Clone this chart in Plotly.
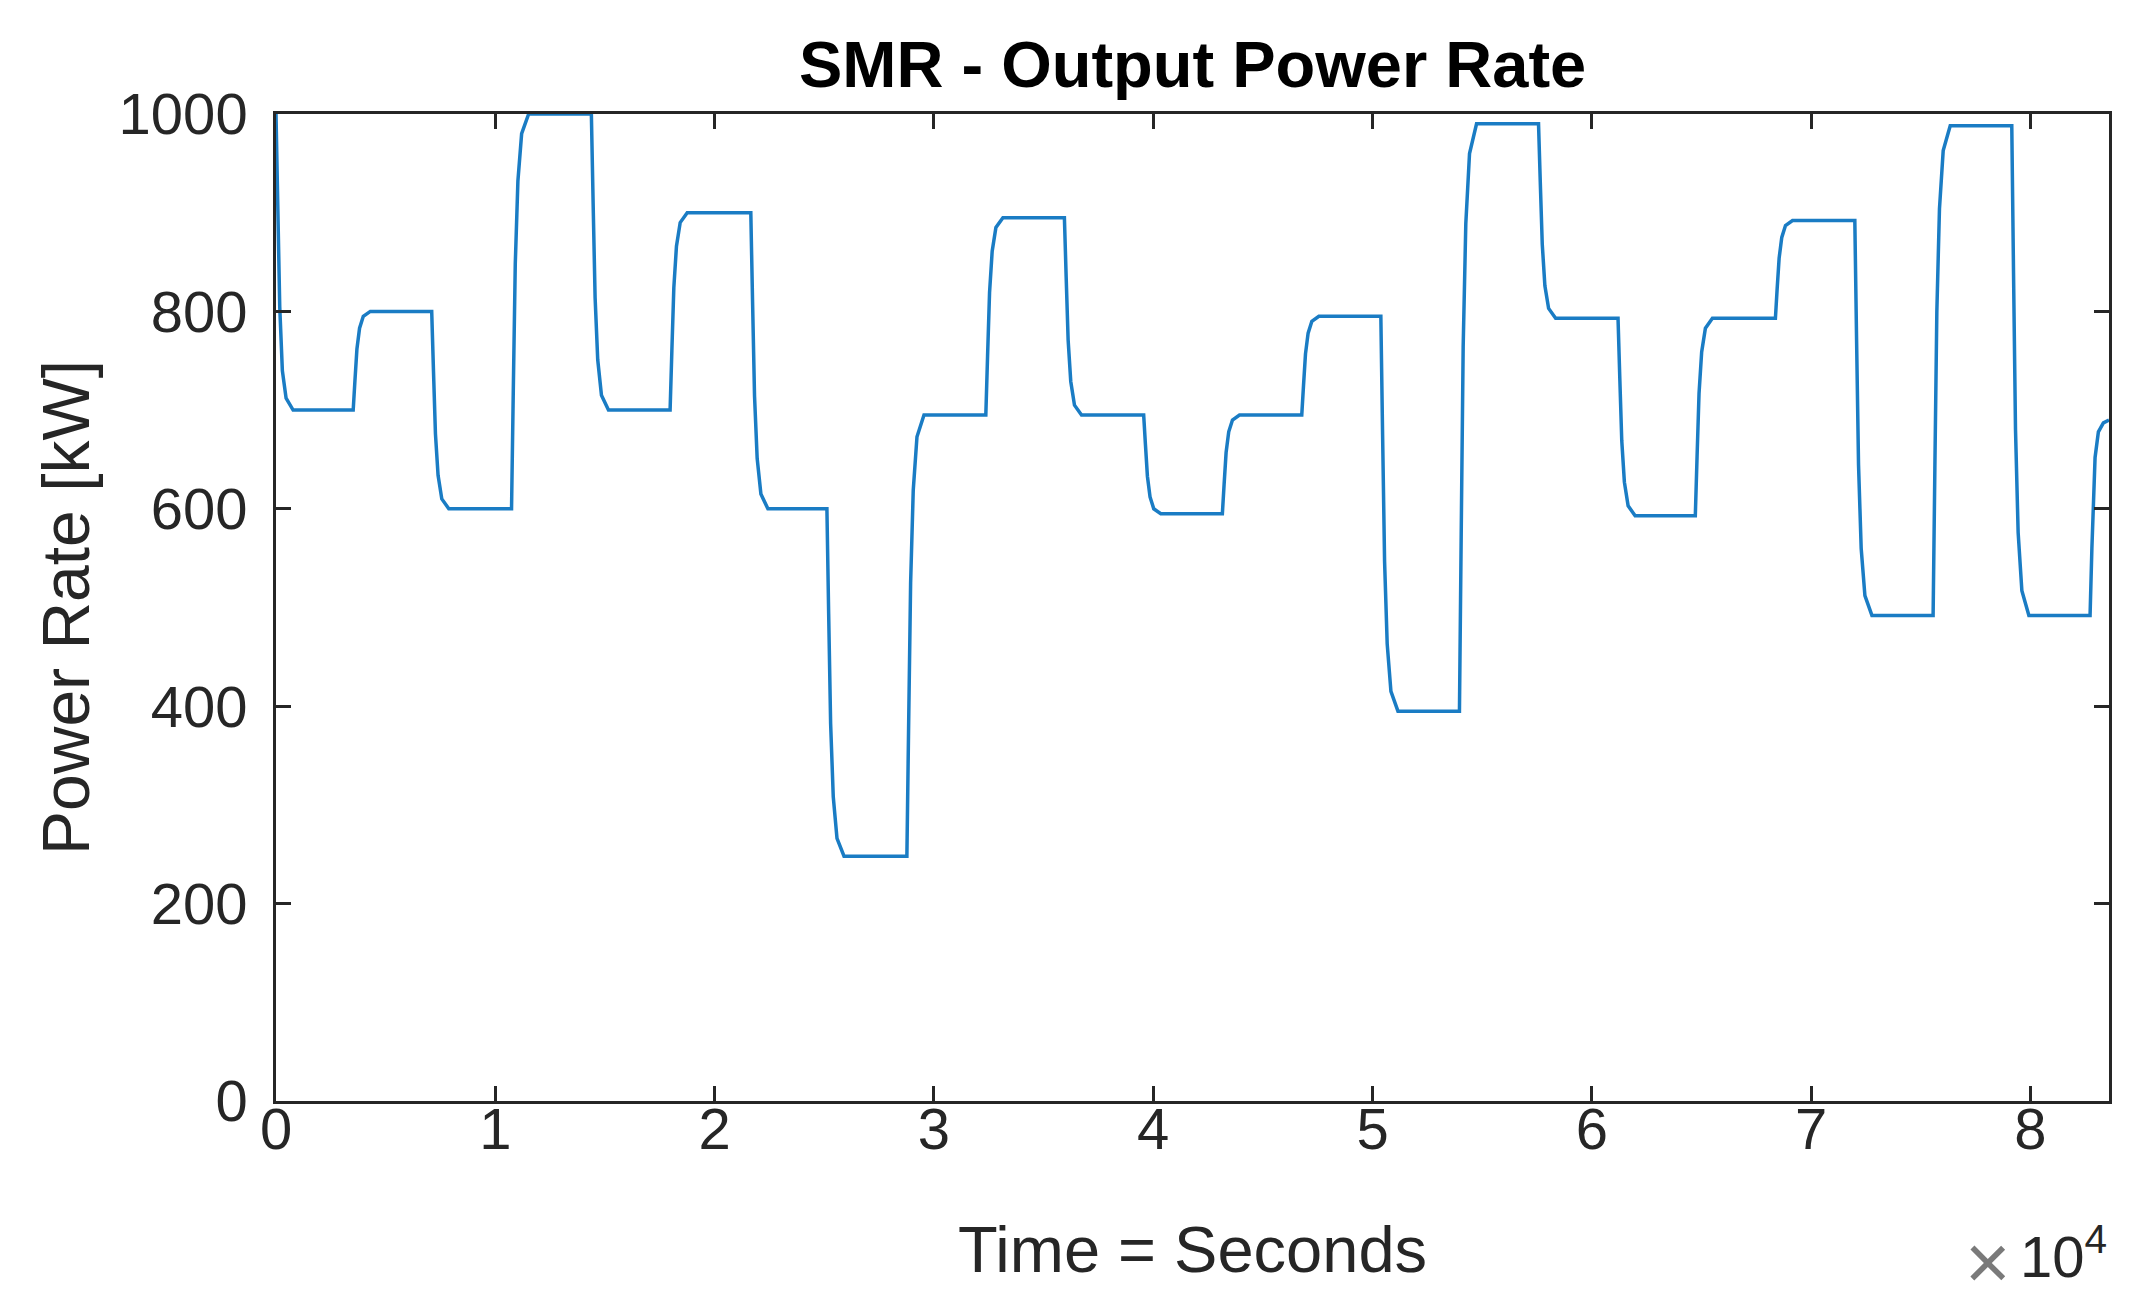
import plotly.graph_objects as go

# ---- data ----
time_s = [
    0, 80, 170, 290, 460, 780,
    3520, 3600, 3690, 3810, 3980, 4300,
    7100, 7180, 7270, 7390, 7560, 7880,
    10740, 10820, 10910, 11030, 11200, 11520,
    14380, 14460, 14550, 14670, 14840, 15160,
    17970, 18050, 18140, 18260, 18430, 18750,
    21650, 21730, 21820, 21940, 22110, 22430,
    25120, 25200, 25290, 25410, 25580, 25900,
    28767, 28847, 28937, 29057, 29227, 29547,
    32366, 32446, 32536, 32656, 32826, 33146,
    35949, 36029, 36119, 36239, 36409, 36729,
    39564, 39644, 39734, 39854, 40024, 40344,
    43152, 43232, 43322, 43442, 43612, 43932,
    46772, 46852, 46942, 47062, 47232, 47552,
    50378, 50458, 50548, 50668, 50838, 51158,
    53962, 54042, 54132, 54252, 54422, 54742,
    57568, 57648, 57738, 57858, 58028, 58348,
    61193, 61273, 61363, 61483, 61653, 61973,
    64717, 64797, 64887, 65007, 65177, 65497,
    68369, 68449, 68539, 68659, 68829, 69149,
    71990, 72070, 72160, 72280, 72450, 72770,
    75560, 75640, 75730, 75850, 76020, 76340,
    79147, 79227, 79317, 79437, 79607, 79927,
    82717, 82800, 82870, 82945, 83096, 83324, 83580,
]
power_kw = [
    1000, 900, 805, 740, 712, 700,
    700, 730, 762, 783, 795, 800,
    800, 740, 676, 634, 610, 600,
    600, 720, 848, 932, 980, 1000,
    1000, 910, 814, 751, 715, 700,
    700, 760, 824, 866, 890, 900,
    900, 810, 714, 651, 615, 600,
    600, 494, 382, 308, 266, 248,
    248, 382, 525, 619, 673, 695,
    695, 755, 819, 861, 885, 895,
    895, 835, 771, 729, 705, 695,
    695, 665, 633, 612, 600, 595,
    595, 625, 657, 678, 690, 695,
    695, 725, 757, 778, 790, 795,
    795, 675, 547, 463, 415, 395,
    395, 574, 764, 889, 960, 990,
    990, 931, 868, 826, 803, 793,
    793, 733, 669, 627, 603, 593,
    593, 653, 717, 759, 783, 793,
    793, 823, 854, 875, 887, 892,
    892, 772, 644, 560, 512, 492,
    492, 641, 800, 904, 963, 988,
    988, 839, 680, 576, 517, 492,
    492, 560, 600, 652, 678, 687, 690,
]

x_tickvals = [0, 10000, 20000, 30000, 40000, 50000, 60000, 70000, 80000]
x_ticktext = ["0", "1", "2", "3", "4", "5", "6", "7", "8"]
y_tickvals = [0, 200, 400, 600, 800, 1000]
y_ticktext = ["0", "200", "400", "600", "800", "1000"]
x_max = 83580

title_text = "SMR - Output Power Rate"
xlabel = "Time = Seconds"
ylabel = "Power Rate [kW]"
exp_times = "×"
exp_power = "10<sup>4</sup>"

FONT = "Liberation Sans, Arial, Helvetica, sans-serif"
AX = "#262626"

fig = go.Figure()
fig.add_trace(go.Scatter(
    x=time_s, y=power_kw, mode="lines",
    line=dict(color="#1a7cc4", width=3.5),
    showlegend=False, hoverinfo="skip",
))

axis_common = dict(
    showline=True, linecolor=AX, linewidth=2.5, mirror="ticks",
    ticks="inside", ticklen=15, tickwidth=2.5, tickcolor=AX,
    showgrid=False, zeroline=False,
    tickfont=dict(family=FONT, size=58, color=AX),
)

fig.update_layout(
    width=2152, height=1314,
    margin=dict(l=276, r=43, t=114, b=213, pad=0),
    paper_bgcolor="white", plot_bgcolor="white",
    xaxis=dict(range=[0, x_max], tickmode="array", tickvals=x_tickvals,
               ticktext=x_ticktext, ticklabelstandoff=-24, **axis_common),
    yaxis=dict(range=[0, 1000], tickmode="array", tickvals=y_tickvals,
               ticktext=y_ticktext, ticklabelstandoff=14, **axis_common),
    annotations=[
        dict(text="<b>" + title_text + "</b>", xref="paper", yref="paper",
             x=0.5, y=(1101 - 64) / 987, xanchor="center", yanchor="middle",
             showarrow=False, font=dict(family=FONT, size=65, color="black")),
        dict(text=xlabel, xref="paper", yref="paper",
             x=0.5, y=(1101 - 1249) / 987, xanchor="center", yanchor="middle",
             showarrow=False, font=dict(family=FONT, size=65, color=AX)),
        dict(text=ylabel, xref="paper", yref="paper", textangle=-90,
             x=(66 - 276) / 1833, y=0.4995, xanchor="center", yanchor="middle",
             showarrow=False, font=dict(family=FONT, size=66, color=AX)),
        dict(text=exp_times, xref="paper", yref="paper",
             x=(1988 - 276) / 1833, y=(1101 - 1262) / 987, xanchor="center", yanchor="middle",
             showarrow=False, font=dict(family=FONT, size=78, color="#7a7a7a")),
        dict(text=exp_power, xref="paper", yref="paper",
             x=(2109 - 276) / 1833, y=(1101 - 1252) / 987, xanchor="right", yanchor="middle",
             showarrow=False, font=dict(family=FONT, size=58, color=AX)),
    ],
)

fig.write_html("out.html", config={"displayModeBar": False},
               post_script="document.body.style.margin='0';document.body.style.overflow='hidden';")
